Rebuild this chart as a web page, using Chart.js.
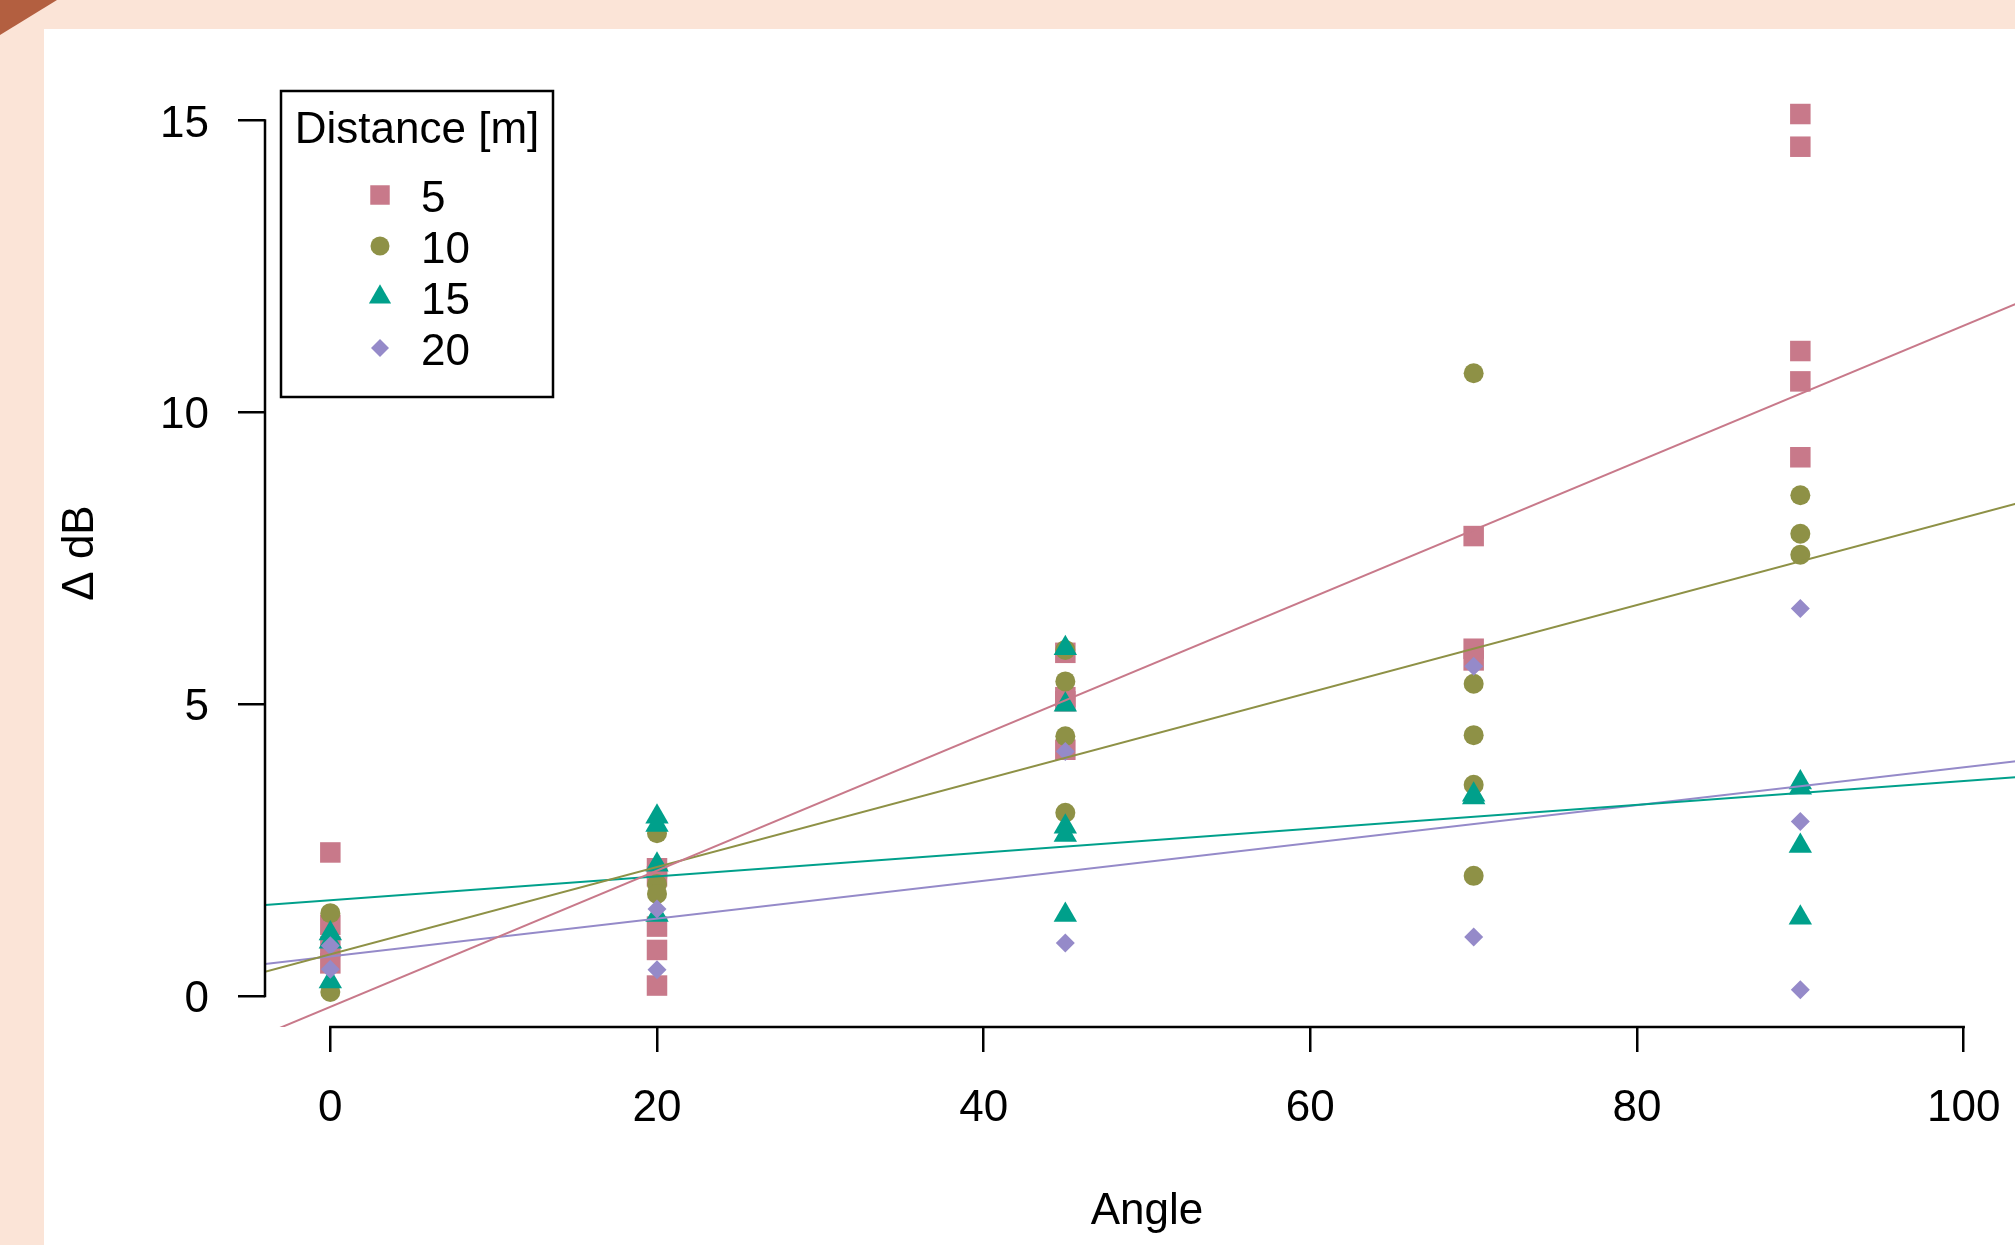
<!DOCTYPE html>
<html>
<head>
<meta charset="utf-8">
<script src="https://cdn.jsdelivr.net/npm/chart.js@4.4.1/dist/chart.umd.min.js"></script>
<style>
  html, body { margin: 0; padding: 0; width: 2015px; height: 1245px; overflow: hidden; background: #FBE4D7; }
  #panel { position: absolute; left: 44px; top: 29px; width: 2100px; height: 1300px; background: #ffffff; }
  #corner { position: absolute; left: 0; top: 0; width: 57px; height: 35px; background: #B35F40;
            clip-path: polygon(0 0, 100% 0, 0 100%); }
  #wrap { position: absolute; left: 0; top: 0; width: 2045px; height: 1245px; }
</style>
</head>
<body>
<div id="panel"></div>
<div id="corner"></div>
<div id="wrap"><canvas id="c" width="2045" height="1245"></canvas></div>
<script>
// ---------------- data ----------------
const legendTitle = 'Distance [m]';
const seriesNames = ['5', '10', '15', '20'];
const xTitle = 'Angle';
const yTitle = '\u0394 dB';
const xTicks = [0, 20, 40, 60, 80, 100];
const yTicks = [0, 5, 10, 15];

// 5 m
const angle5 = [0, 0, 0, 0, 20, 20, 20, 20, 20, 45, 45, 45, 45, 70, 70, 70, 90, 90, 90, 90, 90];
const dB5    = [2.46, 1.22, 0.85, 0.56, 2.19, 2.05, 1.19, 0.79, 0.18, 5.88, 5.12, 5.05, 4.22, 7.88, 5.95, 5.75, 15.11, 14.55, 11.05, 10.53, 9.23];
// 10 m
const angle10 = [0, 0, 20, 20, 20, 45, 45, 45, 45, 70, 70, 70, 70, 70, 90, 90, 90];
const dB10    = [1.42, 0.07, 2.79, 1.92, 1.75, 5.93, 5.39, 4.45, 3.14, 10.67, 5.35, 4.47, 3.62, 2.06, 8.58, 7.92, 7.56];
// 15 m
const angle15 = [0, 0, 0, 20, 20, 20, 20, 45, 45, 45, 45, 45, 70, 70, 90, 90, 90, 90];
const dB15    = [1.07, 0.93, 0.25, 3.07, 2.93, 2.25, 1.39, 5.96, 4.99, 2.90, 2.76, 1.39, 3.40, 3.45, 3.66, 3.57, 2.57, 1.34];
// 20 m
const angle20 = [0, 0, 20, 20, 45, 45, 70, 70, 90, 90, 90];
const dB20    = [0.86, 0.46, 1.49, 0.45, 4.19, 0.91, 5.65, 1.01, 6.64, 2.99, 0.11];

// fitted regression lines (intercept, slope)
const fitIntercept = [-0.185, 0.716, 1.642, 0.677];
const fitSlope     = [0.1167, 0.0748, 0.0204, 0.0324];

// axis limits
const xLimits = [-4, 104];
const yLimits = [-0.53, 15.71];

// ---------------- styling ----------------
const colors = ['#C8798A', '#8E9146', '#00A08B', '#958AC9'];
const styles = ['rect', 'circle', 'triangle', 'rectRot'];
const radii  = [14.5, 10, 13.5, 9.5];
const FONT = "'Liberation Sans', Arial, Helvetica, sans-serif";
const FS = 44;

Chart.defaults.font.family = FONT;
Chart.defaults.color = '#000';

const angleArr = [angle5, angle10, angle15, angle20];
const dBArr = [dB5, dB10, dB15, dB20];

const datasets = [];
seriesNames.forEach((name, i) => {
  datasets.push({
    label: 'fit ' + name,
    data: xLimits.map(x => ({ x: x, y: fitIntercept[i] + fitSlope[i] * x })),
    showLine: true,
    borderColor: colors[i],
    borderWidth: 2,
    pointRadius: 0,
    fill: false,
    order: 0
  });
});
seriesNames.forEach((name, i) => {
  datasets.push({
    label: name,
    data: angleArr[i].map((a, k) => ({ x: a, y: dBArr[i][k] })),
    showLine: false,
    pointStyle: styles[i],
    pointRadius: radii[i],
    pointHoverRadius: radii[i],
    backgroundColor: colors[i],
    borderColor: colors[i],
    borderWidth: 0,
    order: 4 - i
  });
});

function drawSymbol(ctx, style, x, y, r, color) {
  ctx.save();
  ctx.fillStyle = color;
  ctx.beginPath();
  if (style === 'rect') {
    const s = Math.SQRT1_2 * r;
    ctx.rect(x - s, y - s, 2 * s, 2 * s);
  } else if (style === 'circle') {
    ctx.arc(x, y, r, 0, Math.PI * 2);
  } else if (style === 'triangle') {
    ctx.moveTo(x, y - r);
    ctx.lineTo(x + r * Math.sin(Math.PI * 2 / 3), y + r / 2);
    ctx.lineTo(x - r * Math.sin(Math.PI * 2 / 3), y + r / 2);
    ctx.closePath();
  } else {
    ctx.moveTo(x - r, y);
    ctx.lineTo(x, y - r);
    ctx.lineTo(x + r, y);
    ctx.lineTo(x, y + r);
    ctx.closePath();
  }
  ctx.fill();
  ctx.restore();
}

const axisLines = {
  id: 'axisLines',
  afterDraw(chart) {
    const { ctx, chartArea, scales } = chart;
    const xs = scales.x, ys = scales.y;
    const lw = 2.5;
    ctx.save();
    ctx.strokeStyle = '#000';
    ctx.lineWidth = lw;
    ctx.beginPath();
    ctx.moveTo(chartArea.left, ys.getPixelForValue(yTicks[0]) + lw / 2);
    ctx.lineTo(chartArea.left, ys.getPixelForValue(yTicks[yTicks.length - 1]) - lw / 2);
    ctx.moveTo(xs.getPixelForValue(xTicks[0]) - lw / 2, chartArea.bottom);
    ctx.lineTo(xs.getPixelForValue(xTicks[xTicks.length - 1]) + lw / 2, chartArea.bottom);
    ctx.stroke();
    ctx.restore();
  }
};

const boxLegend = {
  id: 'boxLegend',
  afterDraw(chart) {
    const { ctx, chartArea } = chart;
    const left = chartArea.left + 16, top = chartArea.top + 12;
    const w = 272, h = 306;
    ctx.save();
    ctx.strokeStyle = '#000';
    ctx.lineWidth = 2.5;
    ctx.strokeRect(left, top, w, h);
    ctx.fillStyle = '#000';
    ctx.font = FS + 'px ' + FONT;
    ctx.textBaseline = 'middle';
    ctx.textAlign = 'center';
    ctx.fillText(legendTitle, left + w / 2, top + 40);
    ctx.textAlign = 'left';
    seriesNames.forEach((name, i) => {
      const yy = top + 104 + i * 51;
      drawSymbol(ctx, styles[i], left + 99, yy, radii[i] * 0.95, colors[i]);
      ctx.fillStyle = '#000';
      ctx.fillText(name, left + 140, yy + 5);
    });
    ctx.restore();
  }
};

new Chart(document.getElementById('c'), {
  type: 'scatter',
  data: { datasets },
  options: {
    responsive: false,
    animation: false,
    devicePixelRatio: 1,
    layout: { padding: { left: 0, top: 79, right: 16, bottom: 0 } },
    plugins: { legend: { display: false }, tooltip: { enabled: false } },
    scales: {
      x: {
        type: 'linear',
        min: xLimits[0], max: xLimits[1],
        afterBuildTicks: s => { s.ticks = xTicks.map(v => ({ value: v })); },
        afterFit: s => { s.height = 218; },
        grid: { display: true, drawOnChartArea: false, drawTicks: true, tickLength: 25, color: '#000', lineWidth: 2.5 },
        border: { display: false },
        ticks: { font: { size: FS }, padding: 30, maxRotation: 0, autoSkip: false, color: '#000' },
        title: { display: true, text: xTitle, font: { size: FS }, padding: { top: 0, bottom: 7 }, color: '#000' }
      },
      y: {
        type: 'linear',
        min: yLimits[0], max: yLimits[1],
        afterBuildTicks: s => { s.ticks = yTicks.map(v => ({ value: v })); },
        afterFit: s => { s.width = 265; },
        grid: { display: true, drawOnChartArea: false, drawTicks: true, tickLength: 27, color: '#000', lineWidth: 2.5 },
        border: { display: false },
        ticks: {
          font: { size: FS, lineHeight: 0.18 },
          padding: 29, autoSkip: false, color: '#000',
          callback: v => ['', String(v)]
        },
        title: { display: true, text: yTitle, font: { size: FS }, padding: { top: 54, bottom: 0 }, color: '#000' }
      }
    }
  },
  plugins: [axisLines, boxLegend]
});
</script>
</body>
</html>
